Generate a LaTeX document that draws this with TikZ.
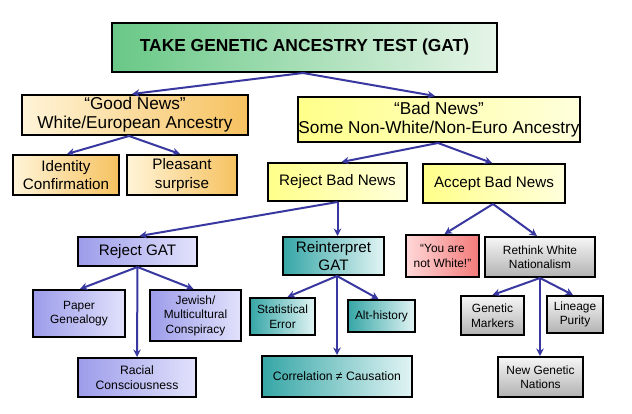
\documentclass[tikz,border=0pt]{standalone}
\usepackage{fontspec}
\setmainfont{Liberation Sans}
\usetikzlibrary{arrows.meta,calc}
\definecolor{arr}{HTML}{3838A0}
\definecolor{gL}{HTML}{68C886}\definecolor{gR}{HTML}{E6F5E8}
\definecolor{oL}{HTML}{FFF4D8}\definecolor{oR}{HTML}{F6C260}
\definecolor{yL}{HTML}{FFFF8A}\definecolor{yR}{HTML}{FFFFDC}
\definecolor{pL}{HTML}{9C9CEA}\definecolor{pR}{HTML}{E2E2FC}
\definecolor{tL}{HTML}{36A6A6}\definecolor{tR}{HTML}{E2F4F4}
\definecolor{kL}{HTML}{FFD8D8}\definecolor{kR}{HTML}{F47A7A}
\definecolor{aT}{HTML}{F6F6F6}\definecolor{aB}{HTML}{B2B2B2}
\tikzset{
  box/.style={draw=black, line width=2pt, inner sep=0pt, align=center, text=black},
  big/.style={font=\fontsize{17.2}{19}\selectfont},
  mid/.style={font=\fontsize{15.2}{18.5}\selectfont},
  sml/.style={font=\fontsize{11.9}{14.5}\selectfont},
  grn/.style={box, left color=gL, right color=gR},
  org/.style={box, left color=oL, right color=oR},
  yel/.style={box, left color=yL, right color=yR},
  pur/.style={box, left color=pL, right color=pR},
  tea/.style={box, left color=tL, right color=tR},
  pnk/.style={box, left color=kL, right color=kR},
  gry/.style={box, top color=aT, bottom color=aB},
  link/.style={draw=arr, line width=2pt, -{Stealth[length=7.5pt,width=7.5pt]}},
}
\begin{document}
\begin{tikzpicture}[x=1pt,y=-1pt]
\path[fill=white] (0,0) rectangle (632,414);
\node[grn, minimum width=385pt, minimum height=49pt, font=\fontsize{17.4}{19}\selectfont\bfseries] (top) at (304.5,47.5) {TAKE GENETIC ANCESTRY TEST (GAT)};
\node[org, big, minimum width=226pt, minimum height=40pt] (good) at (135,115) {“Good News”\\White/European Ancestry};
\node[org, mid, minimum width=106pt, minimum height=40pt] (ident) at (66,175) {Identity\\Confirmation};
\node[org, mid, minimum width=110pt, minimum height=40pt] (pleas) at (182,175) {Pleasant\\surprise};
\node[yel, big, minimum width=266pt, minimum height=45pt] (bad) at (439,119.5) {“Bad News”\\Some Non-White/Non-Euro Ancestry};
\node[yel, mid, minimum width=139pt, minimum height=38pt] (rejbad) at (337.5,182) {Reject Bad News};
\node[yel, mid, minimum width=142pt, minimum height=39pt] (accbad) at (494,183.5) {Accept Bad News};
\node[pur, mid, minimum width=119pt, minimum height=29pt] (rejgat) at (137.5,251.5) {Reject GAT};
\node[pur, sml, minimum width=92pt, minimum height=47pt] (paper) at (79,313.5) {Paper\\Genealogy};
\node[pur, sml, minimum width=91pt, minimum height=51pt] (jewish) at (195.5,315.5) {Jewish/\\Multicultural\\Conspiracy};
\node[pur, font=\fontsize{12.2}{15}\selectfont, minimum width=118pt, minimum height=39pt] (racial) at (137,377.5) {Racial\\Consciousness};
\node[tea, mid, minimum width=101pt, minimum height=38pt] (reint) at (333.5,256) {Reinterpret\\GAT};
\node[tea, sml, minimum width=65pt, minimum height=37pt] (stat) at (282.5,316.5) {Statistical\\Error};
\node[tea, sml, minimum width=67pt, minimum height=32pt] (alt) at (381.5,316) {Alt-history};
\node[tea, font=\fontsize{12.2}{14}\selectfont, minimum width=150pt, minimum height=41pt] (corr) at (337,376.5) {Correlation ≠ Causation};
\node[pnk, sml, minimum width=73pt, minimum height=42pt] (ynw) at (442.5,256) {“You are\\not White!”};
\node[gry, sml, minimum width=110pt, minimum height=40pt] (rethink) at (540,257) {Rethink White\\Nationalism};
\node[gry, sml, minimum width=63pt, minimum height=39pt] (markers) at (492.5,315.5) {Genetic\\Markers};
\node[gry, sml, minimum width=56pt, minimum height=37pt] (lineage) at (575,314.5) {Lineage\\Purity};
\node[gry, sml, minimum width=85pt, minimum height=40pt] (nations) at (540.5,377) {New Genetic\\Nations};
% connectors
\draw[link] ([xshift=-1.5pt]top.south) -- ([xshift=-3pt]good.north);
\draw[link] ([xshift=-1.5pt]top.south) -- ([xshift=-4pt]bad.north);
\draw[link] ([xshift=-6pt]good.south) -- ([xshift=1pt]ident.north);
\draw[link] ([xshift=-6pt]good.south) -- ([xshift=-2pt]pleas.north);
\draw[link] ([xshift=-1pt]bad.south) -- ([xshift=4pt]rejbad.north);
\draw[link] ([xshift=-1pt]bad.south) -- ([xshift=-2pt]accbad.north);
\draw[link] (rejbad.south) -- ([xshift=2pt]rejgat.north);
\draw[link] (rejbad.south) -- (rejbad.south |- reint.north);
\draw[link] ([xshift=-1pt]accbad.south) -- ([xshift=2pt]ynw.north);
\draw[link] ([xshift=-1pt]accbad.south) -- ([xshift=-3pt]rethink.north);
\draw[link] (rejgat.south) -- ([xshift=1pt]paper.north);
\draw[link] (rejgat.south) -- ([xshift=-2pt]jewish.north);
\draw[link] (rejgat.south) -- (racial.north);
\coordinate (rs) at ([xshift=3.5pt]reint.south);
\draw[link] (rs) -- ([xshift=5pt]stat.north);
\draw[link] (rs) -- ([xshift=-3pt]alt.north);
\draw[link] (rs) -- (rs |- corr.north);
\draw[link] (rethink.south) -- (markers.north);
\draw[link] (rethink.south) -- ([xshift=-2pt]lineage.north);
\draw[link] (rethink.south) -- (rethink.south |- nations.north);
\end{tikzpicture}
\end{document}
